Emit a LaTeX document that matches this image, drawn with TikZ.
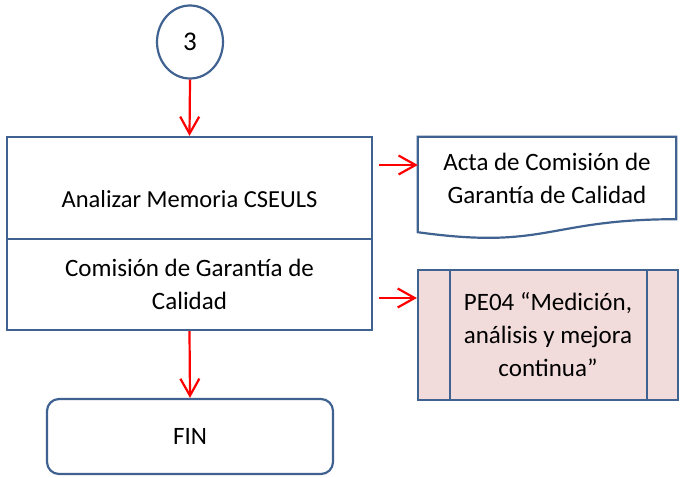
\documentclass[tikz,border=0pt]{standalone}
\usepackage{fontspec}
\setmainfont{Carlito}
\usetikzlibrary{arrows.meta}
\usetikzlibrary{calc, shapes.geometric, positioning}
\definecolor{marco}{RGB}{64,98,145}
\definecolor{rosa}{RGB}{242,220,219}

\begin{document}
\begin{tikzpicture}[x=1pt, y=-1pt, % 1 unidad = 1 px, y hacia abajo
  borde/.style={draw=marco, line width=2.2pt},
  caja/.style={borde, minimum width=365pt, align=center, inner sep=0pt},
  flecha/.style={draw=red, line width=2.2pt, -{Straight Barb[length=17pt,width=19pt]}},
  grande/.style={font=\fontsize{25}{33}\selectfont}]

\useasboundingbox (0,0) rectangle (680,477);

% Conector y actividad
\node[ellipse, borde, minimum width=66pt, minimum height=73pt, inner sep=0pt, font=\fontsize{27}{33}\selectfont] (conector) at (190,42) {3};
\node[caja, minimum height=102pt, text height=44pt, text depth=6pt, font=\fontsize{24.5}{33}\selectfont] (analizar) at (189.5,188) {Analizar Memoria CSEULS};
\node[caja, minimum height=91pt, grande] (comision) at (189.5,284.5) {Comisión de Garantía de\\Calidad};
\node[borde, rounded corners=12pt, minimum width=286pt, minimum height=75pt, grande] (fin) at (190,436.5) {FIN};

% Documento
\node[minimum width=258pt, minimum height=102pt, align=center, inner sep=0pt, text height=50pt, text depth=20pt, grande] (acta) at (547,188) {Acta de Comisión de\\Garantía de Calidad};
\draw[borde] (acta.north west) -- (acta.north east) -- ($(acta.south east)+(0,-20)$)
  .. controls ($(acta.south)+(0,-20)$) and ($(acta.south)+(0,11)$) .. ($(acta.south west)+(0,-7)$) -- cycle;

% Proceso predefinido
\node[borde, fill=rosa, minimum width=260pt, minimum height=130pt, align=center, inner sep=0pt, grande] (pe) at (548,335) {PE04 “Medición,\\análisis y mejora\\continua”};
\draw[borde] ($(pe.north west)+(33,0)$) -- ($(pe.south west)+(33,0)$);
\draw[borde] ($(pe.north east)+(-32,0)$) -- ($(pe.south east)+(-32,0)$);

% Flechas
\draw[flecha] (conector.south) -- (analizar.north);
\draw[flecha] (comision.south) -- (fin.north);
\draw[flecha] ([xshift=6pt,yshift=23pt]analizar.east) -- ([yshift=23pt]acta.west);
\draw[flecha] ([xshift=6pt,yshift=-13.5pt]comision.east) -- ([yshift=37pt]pe.west);

\end{tikzpicture}
\end{document}
